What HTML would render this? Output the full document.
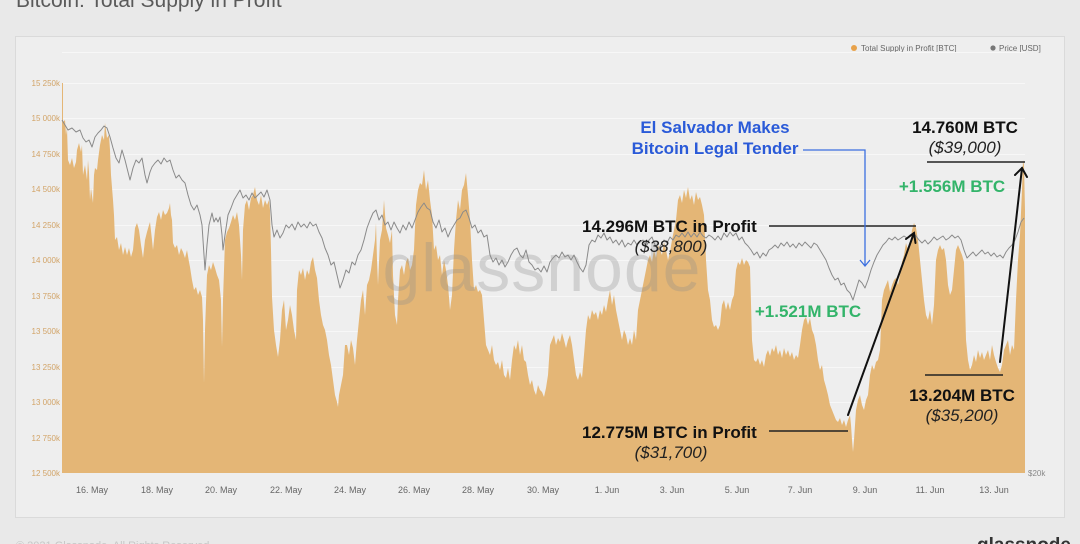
<!DOCTYPE html>
<html><head><meta charset="utf-8"><style>
html,body{margin:0;padding:0;background:#e9e9e9;}
svg{display:block;font-family:"Liberation Sans",sans-serif;}
</style></head><body>
<svg width="1080" height="544" viewBox="0 0 1080 544" xmlns="http://www.w3.org/2000/svg">
<rect x="0" y="0" width="1080" height="544" fill="#e9e9e9"/>
<text x="16" y="7" font-size="21" fill="#5a5a5a">Bitcoin: Total Supply in Profit</text>
<rect x="15.5" y="36.5" width="1049" height="481" fill="#eeeeee" stroke="#dadada" stroke-width="1"/>
<!-- legend -->
<circle cx="854" cy="48" r="3" fill="#e8a24a"/>
<text x="861" y="51" font-size="8" fill="#666">Total Supply in Profit [BTC]</text>
<circle cx="993" cy="48" r="2.6" fill="#777"/>
<text x="999" y="51" font-size="8" fill="#666">Price [USD]</text>
<!-- grid -->
<g stroke="#f7f7f7" stroke-width="1">
<line x1="62" y1="52.5" x2="1025" y2="52.5"/>
<line x1="62" y1="83.5" x2="1025" y2="83.5"/>
<line x1="62" y1="118.5" x2="1025" y2="118.5"/>
<line x1="62" y1="154.5" x2="1025" y2="154.5"/>
<line x1="62" y1="189.5" x2="1025" y2="189.5"/>
<line x1="62" y1="225.5" x2="1025" y2="225.5"/>
<line x1="62" y1="260.5" x2="1025" y2="260.5"/>
<line x1="62" y1="296.5" x2="1025" y2="296.5"/>
<line x1="62" y1="331.5" x2="1025" y2="331.5"/>
<line x1="62" y1="367.5" x2="1025" y2="367.5"/>
<line x1="62" y1="402.5" x2="1025" y2="402.5"/>
<line x1="62" y1="438.5" x2="1025" y2="438.5"/>
</g>
<!-- y labels -->
<g font-size="8" fill="#d2a468" text-anchor="end">
<text x="60" y="86">15 250k</text>
<text x="60" y="121">15 000k</text>
<text x="60" y="157">14 750k</text>
<text x="60" y="192">14 500k</text>
<text x="60" y="228">14 250k</text>
<text x="60" y="263">14 000k</text>
<text x="60" y="299">13 750k</text>
<text x="60" y="334">13 500k</text>
<text x="60" y="370">13 250k</text>
<text x="60" y="405">13 000k</text>
<text x="60" y="441">12 750k</text>
<text x="60" y="476">12 500k</text>
</g>
<text x="1028" y="476" font-size="8" fill="#888">$20k</text>
<!-- bars -->
<polygon fill="#e4b676" points="62,473 62,147 62,83 63,83 63,122 65,120 66,135 67,128 68,160 70,165 72,158 74,168 76,162 77,150 79,143 81,152 82,145 83,175 85,165 87,180 88,160 89,172 90,200 91,188 93,203 94,175 95,168 97,170 98,160 100,145 102,135 104,140 105,123 107,138 109,135 110,150 111,175 113,200 114,215 115,240 117,237 119,250 121,243 123,255 125,247 127,255 129,248 131,257 133,250 135,228 137,223 139,230 141,245 143,258 145,240 147,232 149,225 150,222 152,240 153,250 155,230 157,217 159,212 161,220 163,210 165,215 167,213 169,208 170,203 171,215 172,220 173,243 175,248 177,245 179,255 181,248 183,252 185,258 187,250 189,262 190,267 192,280 194,290 196,287 198,295 200,290 202,297 203,320 204,383 205,330 207,275 209,265 211,270 213,262 215,268 217,275 219,280 221,300 222,347 223,300 225,240 227,232 229,228 231,222 233,215 235,220 237,212 239,225 241,255 242,280 243,230 245,205 247,200 249,210 251,198 253,195 255,187 257,200 259,205 261,195 263,208 265,200 267,205 269,200 270,210 271,250 272,297 274,330 276,345 278,357 280,340 282,310 284,300 286,330 288,320 290,305 292,315 294,330 296,340 297,290 299,270 301,275 303,268 305,280 307,270 309,275 311,262 313,257 315,270 317,278 319,300 321,315 323,325 325,330 327,340 329,355 331,365 333,380 335,395 337,402 338,407 339,395 341,385 343,375 345,345 347,345 349,355 351,340 353,348 355,365 357,340 359,320 361,300 363,290 365,315 367,285 369,280 371,270 373,255 375,240 376,223 377,260 378,285 380,240 382,230 384,200 386,228 388,235 390,243 392,230 393,275 395,315 397,325 398,300 400,270 402,265 404,275 406,262 408,258 410,270 412,265 414,250 416,205 418,190 420,183 422,185 424,170 426,190 428,180 430,200 432,215 434,250 436,245 438,260 440,255 442,275 444,260 446,270 448,285 450,310 452,295 454,250 456,220 458,200 460,210 462,190 464,185 466,173 468,195 470,220 472,260 474,290 476,285 478,292 480,290 482,295 484,320 486,345 488,350 490,355 492,345 494,360 496,365 498,362 500,370 502,360 504,375 506,378 508,368 510,380 512,360 514,345 516,350 518,340 520,355 522,345 524,360 526,362 528,375 530,385 532,380 534,390 536,395 538,385 540,390 542,392 544,397 546,388 548,375 550,345 552,340 554,335 556,345 558,338 560,342 562,333 564,340 566,348 568,340 570,335 572,345 574,360 576,375 578,380 580,372 582,378 584,355 586,330 588,315 590,320 592,310 594,315 596,312 598,320 600,310 602,315 604,305 606,312 608,300 610,290 612,305 614,295 616,310 618,320 620,330 622,340 624,330 626,335 628,345 630,338 632,345 634,330 636,340 638,310 640,300 642,290 644,280 646,270 648,260 650,255 652,262 654,250 656,258 658,245 660,250 662,255 664,242 666,250 668,260 670,252 672,240 674,230 676,220 678,200 680,195 682,203 684,190 686,198 688,187 690,200 692,195 694,205 696,192 698,200 700,197 702,205 704,215 706,260 708,290 710,300 712,320 714,327 716,325 718,330 720,325 722,305 724,300 726,310 728,302 730,310 732,300 734,295 736,270 738,262 740,265 742,258 744,265 746,260 748,262 750,267 752,340 754,360 756,362 758,358 760,365 762,360 764,367 766,355 768,350 770,356 772,348 774,352 776,345 778,355 780,350 782,358 784,348 786,355 788,350 790,357 792,352 794,360 796,355 798,358 800,345 802,330 804,320 806,317 808,325 810,318 812,330 814,335 816,345 818,360 820,370 822,365 824,380 826,387 828,395 830,405 832,410 834,415 836,420 838,422 840,418 842,425 844,420 846,427 848,420 850,415 851,425 852,440 853,452 854,440 856,410 858,400 860,395 862,405 864,410 866,400 868,395 870,375 872,365 874,370 876,362 878,360 880,350 882,300 884,290 886,285 888,280 890,292 892,285 894,280 896,278 898,285 900,275 902,262 904,255 906,243 908,250 910,245 912,230 914,223 916,228 918,240 920,260 922,280 924,300 926,315 928,320 930,310 932,325 934,305 936,260 938,250 940,245 942,250 944,248 946,260 948,285 950,295 952,290 954,270 956,250 958,245 960,250 962,255 964,262 966,340 968,360 970,370 972,365 974,355 976,362 978,350 980,358 982,352 984,360 986,355 988,350 990,360 992,345 994,355 996,362 998,368 1000,372 1002,365 1004,350 1006,345 1008,340 1010,355 1012,345 1014,350 1016,300 1018,260 1020,235 1022,190 1023,160 1024,165 1025,210 1025,473"/>
<!-- watermark -->
<text x="542" y="291" font-size="68" fill="#8c8c8c" fill-opacity="0.3" text-anchor="middle" letter-spacing="1">glassnode</text>
<!-- price line -->
<polyline fill="none" stroke="#8a8a8a" stroke-width="1" stroke-linejoin="round" points="62,120 65,125 68,130 72,128 76,132 80,130 83,138 86,142 89,140 92,147 95,137 98,133 101,130 104,126 107,128 110,137 113,148 116,158 119,163 122,150 125,160 128,172 130,180 133,168 136,160 139,163 142,158 145,175 147,183 150,172 152,167 155,163 158,160 161,164 164,158 167,162 170,160 173,170 176,178 179,175 182,180 185,183 188,195 191,205 194,210 197,205 200,215 202,225 204,255 205,270 207,245 209,225 212,213 214,222 216,218 218,222 220,217 222,235 223,250 225,235 228,215 231,208 234,200 237,195 240,190 243,198 246,195 249,200 252,193 255,198 258,195 261,192 264,197 267,190 270,200 272,225 274,237 277,230 280,238 283,233 286,225 289,228 292,224 295,230 298,222 301,227 304,224 307,228 310,222 313,226 316,224 319,232 322,238 325,248 328,255 331,265 334,262 337,275 340,288 343,280 346,270 349,273 352,262 355,265 358,255 361,250 364,240 367,228 370,220 373,213 376,210 379,220 382,215 385,225 388,222 391,230 394,222 397,228 400,233 403,225 406,230 409,222 412,228 415,220 418,212 421,207 424,203 427,208 430,210 433,222 436,228 439,220 442,232 445,228 448,237 451,230 454,225 457,220 460,218 463,212 466,210 469,218 472,228 475,225 478,233 481,230 484,237 487,235 490,255 493,262 496,258 499,265 502,260 505,267 508,262 511,255 514,250 517,248 520,255 523,258 526,250 529,262 532,265 535,270 538,268 541,272 544,266 547,272 550,262 553,258 556,255 559,258 562,252 565,257 568,255 571,260 574,255 577,262 580,268 583,272 586,265 589,245 592,240 595,242 598,235 601,238 604,233 607,240 610,237 613,243 616,240 619,245 622,240 625,247 628,243 631,245 634,240 637,245 640,242 643,240 646,247 649,240 652,237 655,245 658,250 661,245 664,240 667,243 670,237 673,240 676,235 679,237 682,233 685,237 688,232 691,237 694,233 697,237 700,232 703,236 706,238 709,235 712,237 715,240 718,236 721,240 724,233 727,237 730,232 733,236 736,233 739,240 742,237 745,243 748,246 751,250 754,255 757,252 760,258 763,253 766,256 769,250 772,248 775,245 778,248 781,243 784,246 787,242 790,247 793,244 796,248 799,243 802,246 805,242 808,245 811,248 814,243 817,245 820,250 823,255 826,260 829,268 832,275 835,280 838,278 841,285 844,283 847,290 850,293 853,300 856,290 859,280 862,283 865,288 868,280 871,270 874,262 877,255 880,250 883,245 886,242 889,238 892,240 895,237 898,240 901,238 904,236 907,238 910,235 913,233 916,236 919,240 922,243 925,240 928,244 931,241 934,237 937,240 940,238 943,236 946,240 949,238 952,235 955,238 958,236 961,240 964,250 967,258 970,255 973,252 976,256 979,253 982,250 985,254 988,252 991,256 994,253 997,257 1000,255 1003,258 1006,252 1009,248 1012,245 1015,240 1018,232 1021,222 1024,218"/>
<!-- x labels -->
<g font-size="9" fill="#666" text-anchor="middle">
<text x="92" y="493">16. May</text>
<text x="157" y="493">18. May</text>
<text x="221" y="493">20. May</text>
<text x="286" y="493">22. May</text>
<text x="350" y="493">24. May</text>
<text x="414" y="493">26. May</text>
<text x="478" y="493">28. May</text>
<text x="543" y="493">30. May</text>
<text x="607" y="493">1. Jun</text>
<text x="672" y="493">3. Jun</text>
<text x="737" y="493">5. Jun</text>
<text x="800" y="493">7. Jun</text>
<text x="865" y="493">9. Jun</text>
<text x="930" y="493">11. Jun</text>
<text x="994" y="493">13. Jun</text>
</g>
<!-- annotations -->
<g font-weight="bold" font-size="17">
<text x="715" y="133" fill="#2a5ad8" text-anchor="middle">El Salvador Makes</text>
<text x="715" y="154" fill="#2a5ad8" text-anchor="middle">Bitcoin Legal Tender</text>
<text x="965" y="133" fill="#111" text-anchor="middle">14.760M BTC</text>
<text x="952" y="192" fill="#33b46a" text-anchor="middle">+1.556M BTC</text>
<text x="582" y="232" fill="#111">14.296M BTC in Profit</text>
<text x="808" y="317" fill="#33b46a" text-anchor="middle">+1.521M BTC</text>
<text x="582" y="438" fill="#111">12.775M BTC in Profit</text>
<text x="962" y="401" fill="#111" text-anchor="middle">13.204M BTC</text>
</g>
<g font-style="italic" font-size="17" fill="#222" text-anchor="middle">
<text x="965" y="153">($39,000)</text>
<text x="671" y="252">($38,800)</text>
<text x="671" y="458">($31,700)</text>
<text x="962" y="421">($35,200)</text>
</g>
<!-- lines -->
<g stroke="#222" stroke-width="1.5" fill="none">
<line x1="927" y1="162" x2="1025" y2="162"/>
<line x1="769" y1="226" x2="916" y2="226"/>
<line x1="769" y1="431" x2="848" y2="431"/>
<line x1="925" y1="375" x2="1003" y2="375"/>
</g>
<g stroke="#111" stroke-width="2" fill="none" stroke-linecap="round">
<line x1="848" y1="415" x2="914" y2="233"/>
<polyline points="906,239 914,233 915.5,243"/>
<line x1="1000" y1="362" x2="1022" y2="168"/>
<polyline points="1015,175 1022,168 1027,177"/>
</g>
<g stroke="#3b6fe0" stroke-width="1.3" fill="none">
<polyline points="803,150 865,150 865,266"/>
<polyline points="860,260 865,266 870,260"/>
</g>
<!-- footer -->
<text x="16" y="549" font-size="11" fill="#c6c6c6">© 2021 Glassnode. All Rights Reserved.</text>
<text x="977" y="551" font-size="19" font-weight="bold" fill="#333">glassnode</text>
</svg>
</body></html>
